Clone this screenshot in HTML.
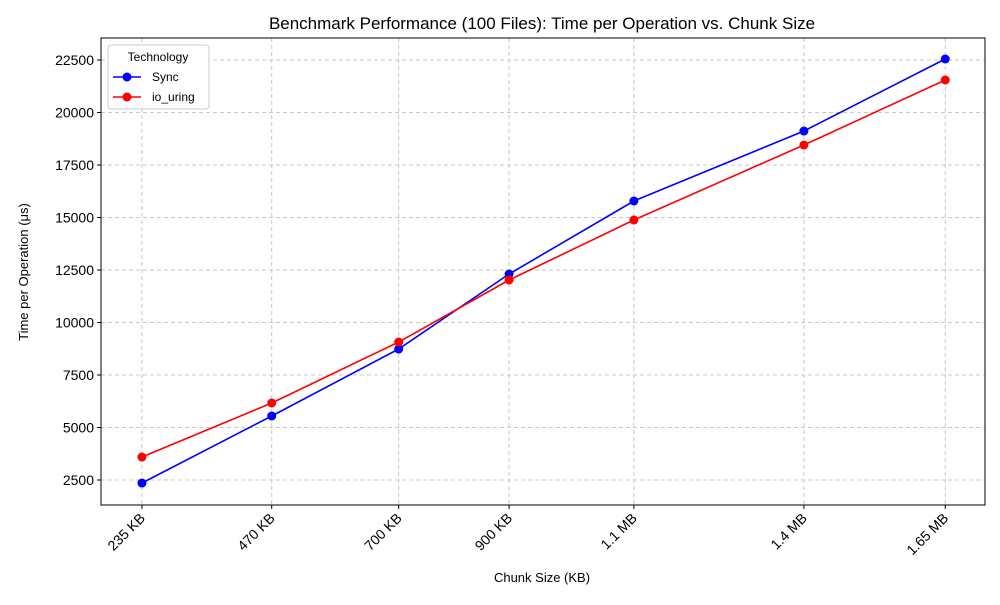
<!DOCTYPE html>
<html><head><meta charset="utf-8"><style>
body{margin:0;background:#fff;font-family:"Liberation Sans",sans-serif}
</style></head><body>
<svg id="chart" width="1000" height="600" xmlns="http://www.w3.org/2000/svg" font-family="Liberation Sans, sans-serif"></svg>
<script>
const xValues=[235,470,700,900,1126,1434,1690];
const xLabels=["235 KB","470 KB","700 KB","900 KB","1.1 MB","1.4 MB","1.65 MB"];
const syncValues=[2357,5548,8738,12310,15786,19119,22548];
const uringValues=[3595,6167,9071,12024,14881,18452,21548];
const yTicks=[2500,5000,7500,10000,12500,15000,17500,20000,22500];
const L=101,R=985,T=38,B=505;
const xMin=160.8,xMax=1762,yMin=1310,yMax=23548;
const sx=v=>L+(v-xMin)/(xMax-xMin)*(R-L);
const sy=v=>B-(v-yMin)/(yMax-yMin)*(B-T);
const svg=document.getElementById('chart');
const NS="http://www.w3.org/2000/svg";
function mk(t,a,txt){const e=document.createElementNS(NS,t);for(const k in a)e.setAttribute(k,a[k]);if(txt!=null)e.textContent=txt;svg.appendChild(e);return e;}
yTicks.forEach(v=>{
 const g=mk('line',{x1:L,x2:R,y1:sy(v),y2:sy(v),stroke:'#c8c8c8','stroke-dasharray':'4,3'});
 
 
 const t=mk('line',{x1:L-4,x2:L,y1:sy(v),y2:sy(v),stroke:'#000'});
 
 
 const l=mk('text',{x:L-7,y:sy(v)+5,'text-anchor':'end','font-size':'14'},v);
 
 
});
xValues.forEach((v,i)=>{
 const g=mk('line',{x1:sx(v),x2:sx(v),y1:T,y2:B,stroke:'#c8c8c8','stroke-dasharray':'4,3'});
 
 
 const t=mk('line',{x1:sx(v),x2:sx(v),y1:B,y2:B+4,stroke:'#000'});
 
 
 const x=sx(v)+4,y=B+14;
 const l=mk('text',{x:x,y:y,'text-anchor':'end','font-size':'14',transform:`rotate(-45 ${x} ${y})`},xLabels[i]);
 
 
});
const frame=mk('rect',{x:L,y:T,width:R-L,height:B-T,fill:'none',stroke:'#000'});


function series(vals,color,name){
 const p=mk('polyline',{points:vals.map((v,i)=>sx(xValues[i])+','+sy(v)).join(' '),fill:'none',stroke:color,'stroke-width':'1.6'});
 
 
 vals.forEach((v,i)=>{
  const c=mk('circle',{cx:sx(xValues[i]),cy:sy(v),r:4.5,fill:color});
  
  
 });
}
series(syncValues,'#0000ff','sync');
series(uringValues,'#ff0000','io-uring');
const title=mk('text',{x:542,y:29,'text-anchor':'middle','font-size':'17'},'Benchmark Performance (100 Files): Time per Operation vs. Chunk Size');


const xt=mk('text',{x:542,y:582,'text-anchor':'middle','font-size':'13'},'Chunk Size (KB)');


const yt=mk('text',{x:28,y:272,'text-anchor':'middle','font-size':'13',transform:'rotate(-90 28 272)'},'Time per Operation (μs)');


const lg=mk('rect',{x:108,y:45,width:101,height:64,fill:'#fff',stroke:'#ccc',rx:3});


const lt=mk('text',{x:158,y:61,'text-anchor':'middle','font-size':'12'},'Technology');


[['Sync','#0000ff',77],['io_uring','#ff0000',97]].forEach(([n,c,y])=>{
 const l=mk('line',{x1:113,x2:141,y1:y,y2:y,stroke:c,'stroke-width':'1.6'});
 
 
 const d=mk('circle',{cx:127,cy:y,r:4.5,fill:c});
 
 
 const t=mk('text',{x:152,y:y+4,'font-size':'12'},n);
 
 
});
</script>
</body></html>
